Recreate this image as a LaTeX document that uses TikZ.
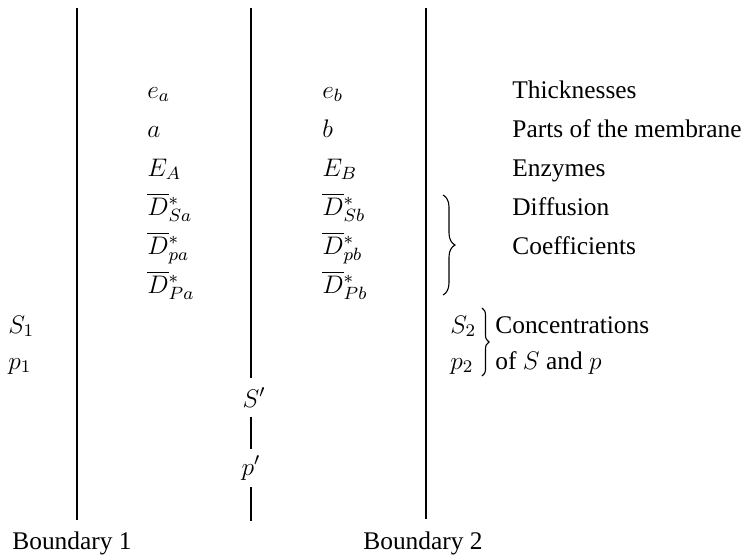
\documentclass[tikz,border=0pt]{standalone}
\usepackage{fix-cm}
\usepackage{fontspec}
\setmainfont{Liberation Serif}
\usetikzlibrary{decorations.pathreplacing}

\begin{document}
\begin{tikzpicture}[
    x=0.5pt,y=-0.5pt,
    lbl/.style={anchor=base west,inner sep=0pt,font=\fontsize{12.7}{15}\selectfont},
    mid/.style={anchor=base,inner xsep=0pt,font=\fontsize{12.7}{15}\selectfont},
    bnd/.style={draw=black,line width=0.65pt},
    brc/.style={decorate,decoration={brace,amplitude=#1},draw=black,line width=0.55pt}
  ]
    \useasboundingbox (0,0) rectangle (744,557);
    % boundaries and middle line
    \coordinate (b1top) at (77,8);
    \coordinate (b1bot) at (77,520);
    \coordinate (b2top) at (426,8);
    \coordinate (b2bot) at (426,519);
    \coordinate (mtop) at (251,8);
    \coordinate (mbot) at (251,521);
    \node[mid,inner ysep=5pt] (Sp) at (254,407) {$S'$};
    \node[mid,inner ysep=3.5pt] (pp) at (251,475) {$p'$};
    \draw[bnd] (b1top) -- (b1bot);
    \draw[bnd] (b2top) -- (b2bot);
    \draw[bnd] (mtop) -- (Sp.north -| mtop);
    \draw[bnd] (Sp.south -| mtop) -- (pp.north -| mtop);
    \draw[bnd] (pp.south -| mtop) -- (mbot);
    % part a
    \node[lbl] (ea) at (147,98) {$e_a$};
    \node[lbl] (a) at (147,137) {$a$};
    \node[lbl] (EA) at (147,176) {$E_A$};
    \node[lbl] (DSa) at (147,215) {$\overline{D}{}^{*}_{Sa}$};
    \node[lbl] (Dpa) at (147,254) {$\overline{D}{}^{*}_{pa}$};
    \node[lbl] (DPa) at (147,293) {$\overline{D}{}^{*}_{Pa}$};
    % part b
    \node[lbl] (eb) at (322,98) {$e_b$};
    \node[lbl] (b) at (322,137) {$b$};
    \node[lbl] (EB) at (322,176) {$E_B$};
    \node[lbl] (DSb) at (322,215) {$\overline{D}{}^{*}_{Sb}$};
    \node[lbl] (Dpb) at (322,254) {$\overline{D}{}^{*}_{pb}$};
    \node[lbl] (DPb) at (322,293) {$\overline{D}{}^{*}_{Pb}$};
    % legend
    \node[lbl] (thick) at (512,98) {Thicknesses};
    \node[lbl] (parts) at (512,137) {Parts of the membrane};
    \node[lbl] (enz) at (512,176) {Enzymes};
    \node[lbl] (diff) at (512,215) {Diffusion};
    \node[lbl] (coef) at (512,254) {Coefficients};
    \coordinate (dbtop) at (443,195);
    \coordinate (dbbot) at (443,295);
    \draw[brc=6pt] (dbtop) -- (dbbot);
    % concentrations
    \node[lbl] (S1) at (8,333) {$S_1$};
    \node[lbl] (p1) at (8,369) {$p_1$};
    \node[lbl] (S2) at (450,333) {$S_2$};
    \node[lbl] (p2) at (450,369) {$p_2$};
    \node[lbl] (conc) at (495,333) {Concentrations};
    \node[lbl] (ofSp) at (495,369) {of $S$ and $p$};
    \coordinate (cbtop) at (482,308);
    \coordinate (cbbot) at (482,376);
    \draw[brc=3.5pt] (cbtop) -- (cbbot);
    % boundary names
    \node[mid] (bn1) at (72,549) {Boundary 1};
    \node[mid] (bn2) at (423,549) {Boundary 2};
  \end{tikzpicture}
\end{document}
